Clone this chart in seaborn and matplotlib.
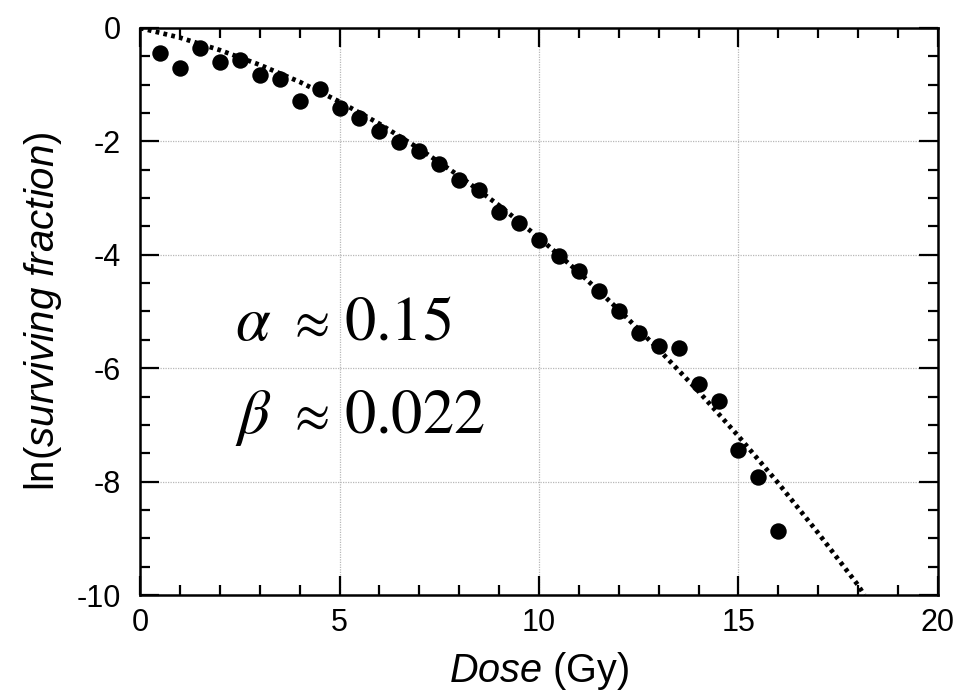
import numpy as np
import pandas as pd
import matplotlib
matplotlib.use("Agg")
import matplotlib.pyplot as plt
import seaborn as sns
from matplotlib.ticker import MultipleLocator

dose = [0.5, 1.0, 1.5, 2.0, 2.5, 3.0, 3.5, 4.0, 4.5, 5.0, 5.5, 6.0, 6.5, 7.0, 7.5, 8.0,
        8.5, 9.0, 9.5, 10.0, 10.5, 11.0, 11.5, 12.0, 12.5, 13.0, 13.5, 14.0, 14.5, 15.0,
        15.5, 16.0]
ln_sf = [-0.44, -0.71, -0.35, -0.60, -0.56, -0.83, -0.90, -1.29, -1.08, -1.41, -1.59,
         -1.82, -2.01, -2.17, -2.40, -2.68, -2.86, -3.25, -3.44, -3.74, -4.02, -4.28,
         -4.64, -4.99, -5.38, -5.61, -5.64, -6.28, -6.58, -7.44, -7.92, -8.87]

fit_dose = [0, 1, 2, 3, 4, 5, 6, 7, 8, 9, 10, 11, 12, 13, 14, 15, 16, 17, 18, 18.15]
fit_ln_sf = [0.0, -0.17, -0.39, -0.65, -0.95, -1.30, -1.69, -2.13, -2.61, -3.13, -3.70,
             -4.31, -4.97, -5.67, -6.41, -7.20, -8.03, -8.91, -9.83, -10.0]

param_symbols = [r"$\alpha$", r"$\beta$"]
param_values = ["0.15", "0.022"]

sns.set_theme(style="white")
plt.rcParams['font.family'] = ['Liberation Sans', 'DejaVu Sans']
plt.rcParams['mathtext.fontset'] = 'custom'
plt.rcParams['mathtext.it'] = 'Liberation Sans:italic'
plt.rcParams['mathtext.rm'] = 'Liberation Sans'
plt.rcParams['axes.unicode_minus'] = False

fig = plt.figure(figsize=(9.67, 6.96), dpi=100)
ax = fig.add_axes([0.1448, 0.1451, 0.8252, 0.8147])

pts = pd.DataFrame({"dose": dose, "lnsf": ln_sf})
fit = pd.DataFrame({"dose": fit_dose, "lnsf": fit_ln_sf})

ax.grid(True, color="#b8b8b8", linestyle=(0, (1, 1)), linewidth=0.9)
ax.set_axisbelow(True)

sns.lineplot(data=fit, x="dose", y="lnsf", ax=ax, color="black", linewidth=3.4,
             linestyle=(0, (0.8, 0.9)), dash_capstyle="butt", zorder=3)
sns.scatterplot(data=pts, x="dose", y="lnsf", ax=ax, color="black", s=140,
                edgecolor="black", linewidth=0, zorder=4)

ax.set_xlim(0, 20)
ax.set_ylim(-10, 0)
ax.xaxis.set_major_locator(MultipleLocator(5))
ax.xaxis.set_minor_locator(MultipleLocator(1))
ax.yaxis.set_major_locator(MultipleLocator(2))
ax.yaxis.set_minor_locator(MultipleLocator(0.5))
ax.tick_params(which="both", direction="in", top=True, right=True, bottom=True,
               left=True, width=1.6, color="black", labelsize=22, labelcolor="black")
ax.tick_params(which="major", length=14)
ax.tick_params(which="minor", length=7)
ax.tick_params(axis="x", which="major", pad=9)
ax.tick_params(axis="y", which="major", pad=14)
for s in ax.spines.values():
    s.set_color("black")
    s.set_linewidth(1.8)

ax.set_xlabel(r"$\it{Dose}$ (Gy)", fontsize=28.5, color="black", labelpad=9)
ax.set_ylabel(r"ln($\it{surviving\ fraction}$)", fontsize=29, color="black", labelpad=9)

baselines = [-5.50, -7.14]
for sym, val, yb in zip(param_symbols, param_values, baselines):
    ax.text(2.38, yb, sym, fontsize=45, va="baseline", ha="left", color="black",
            math_fontfamily="stix")
    ax.text(4.2, yb + 0.04, r"$\approx$", fontsize=37, va="baseline", ha="center",
            color="black", math_fontfamily="stix")
    ax.text(5.1, yb, r"$\mathrm{" + val + "}$", fontsize=45, va="baseline", ha="left",
            color="black", math_fontfamily="stix")

fig.savefig("out.png", dpi=100)
